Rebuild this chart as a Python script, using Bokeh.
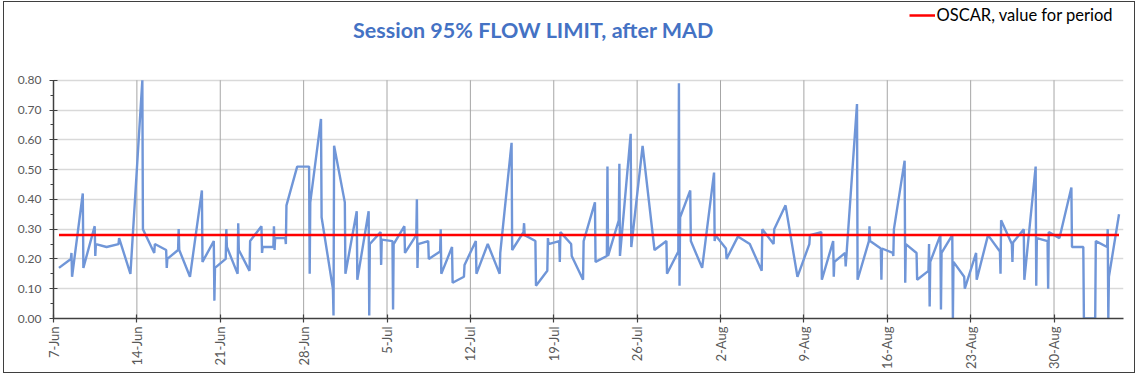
from datetime import datetime, timedelta
from math import pi

from bokeh.plotting import figure
from bokeh.layouts import column
from bokeh.models import (Range1d, FixedTicker, NumeralTickFormatter,
                          CustomJSTickFormatter, Legend, LegendItem, Label)
from bokeh.embed import file_html
from bokeh.resources import INLINE

# ---------------- data ----------------
first_day = datetime(2021, 6, 7)
# session values (95% flow limit, after MAD), one list per day starting 7-Jun
sessions = [
    [0.17], [0.20, 0.22, 0.14], [0.42, 0.17], [0.31, 0.21, 0.25], [0.24], [0.25, 0.27], [0.15],
    [0.80, 0.30], [0.22, 0.25], [0.23, 0.17, 0.20], [0.23, 0.30, 0.23], [0.14], [0.43, 0.19], [0.26, 0.06, 0.17],
    [0.20, 0.30, 0.24], [0.15, 0.32, 0.23], [0.16, 0.26], [0.31, 0.22, 0.24], [0.24, 0.31, 0.23, 0.27], [0.27, 0.25, 0.38], [0.51],
    [0.51, 0.15, 0.39], [0.67, 0.34], [0.10, 0.01, 0.58], [0.39, 0.15], [0.36, 0.13], [0.36, 0.01, 0.25], [0.29, 0.18, 0.265],
    [0.26, 0.03, 0.25], [0.31, 0.22], [0.28, 0.40, 0.17, 0.25], [0.26, 0.20], [0.225, 0.30, 0.15], [0.24, 0.12], [0.14, 0.18],
    [0.26, 0.15], [0.25], [0.15, 0.22], [0.59, 0.23], [0.29, 0.32, 0.28], [0.26, 0.11], [0.16, 0.27, 0.25],
    [0.26, 0.19, 0.29], [0.25, 0.21], [0.13, 0.26], [0.39, 0.19], [0.21, 0.51, 0.21], [0.33, 0.52, 0.21], [0.62, 0.24],
    [0.58], [0.23], [0.26, 0.15], [0.225, 0.79, 0.11, 0.34], [0.43, 0.26], [0.17], [0.49, 0.26, 0.28],
    [0.235, 0.20], [0.275], [0.25], [0.16, 0.30], [0.25, 0.30], [0.38], [0.14],
    [0.25, 0.28], [0.29, 0.13], [0.26, 0.14, 0.19], [0.22, 0.175], [0.72, 0.13], [0.26, 0.31, 0.26], [0.235, 0.13, 0.235],
    [0.22, 0.21, 0.30], [0.53, 0.12, 0.25], [0.22, 0.13], [0.16, 0.25, 0.04, 0.19], [0.28, 0.03, 0.22], [0.28, 0.00, 0.19], [0.14, 0.10],
    [0.22, 0.13], [0.28], [0.225, 0.15, 0.33], [0.25, 0.19, 0.255], [0.30, 0.13], [0.51, 0.11, 0.27], [0.26, 0.10, 0.29],
    [0.27], [0.44, 0.24], [0.24, 0.00], [0.00, 0.26], [0.24, 0.30, 0.00, 0.14], [0.35],
]
oscar_value = 0.28
y_ticks = [0.0, 0.1, 0.2, 0.3, 0.4, 0.5, 0.6, 0.7, 0.8]
week_labels = ["7-Jun", "14-Jun", "21-Jun", "28-Jun", "5-Jul", "12-Jul", "19-Jul",
               "26-Jul", "2-Aug", "9-Aug", "16-Aug", "23-Aug", "30-Aug"]
title_text = "Session 95% FLOW LIMIT, after MAD"
legend_text = "OSCAR, value for period"

# session timestamps: sessions of a day start late morning, an hour or so apart
xs, ys = [], []
for d, vals in enumerate(sessions):
    for k, v in enumerate(vals):
        xs.append(first_day + timedelta(days=d, hours=11 + 1.2 * k))
        ys.append(v)

week_dates = [first_day + timedelta(days=7 * i) for i in range(len(week_labels))]
week_ticks = [(d - datetime(1970, 1, 1)).total_seconds() * 1000 for d in week_dates]
y_max = y_ticks[-1]
y_minor = [t + 0.05 for t in y_ticks[:-1]]

# ---------------- layout (page pixels of the reference) ----------------
OX, OY = 4, 2            # where the figure starts inside the bordered box
W, H = 1130, 370
BL = 53 - OX             # frame left edge at page x=53
FB = 319 - OY            # frame bottom (y=0 line) at page y=319
BB = H - FB
BR = W - (1123 - OX)
FH = FB                  # frame spans the whole height above the x axis
y_top = y_max * FH / (319 - 80)

p = figure(width=W, height=H, x_axis_type="datetime",
           x_range=Range1d(first_day, datetime(2021, 9, 4, 20)),
           y_range=Range1d(0, y_top),
           output_backend="svg", toolbar_location=None, title_location=None,
           min_border_left=BL, min_border_right=BR, min_border_top=0, min_border_bottom=BB)
p.outline_line_color = None
p.background_fill_color = "white"
p.border_fill_color = "white"

# title
p.add_layout(Label(x=533 - 53, y=319 - 30, x_units="screen", y_units="screen",
                   text=title_text, text_align="center", text_baseline="middle",
                   text_font="Lato", text_font_size="21.5px", text_font_style="bold",
                   text_color="#4472C4"))

# x axis
p.xaxis.ticker = FixedTicker(ticks=week_ticks)
p.xaxis.formatter = CustomJSTickFormatter(args=dict(wticks=week_ticks, wlabels=week_labels), code="""
    let best = -1, bd = Infinity;
    for (let i = 0; i < wticks.length; i++) {
        const dd = Math.abs(wticks[i] - tick);
        if (dd < bd) { bd = dd; best = i; }
    }
    return bd < 3600000 ? wlabels[best] : "";
""")
p.xaxis.major_label_orientation = pi / 2
p.xaxis.axis_line_color = "#404040"
p.xaxis.axis_line_width = 1.5
p.xaxis.major_tick_line_color = "#404040"
p.xaxis.major_tick_line_width = 1.2
p.xaxis.major_tick_in = 4
p.xaxis.major_tick_out = 4
p.xaxis.minor_tick_line_color = None
p.xaxis.major_label_text_font = "Lato"
p.xaxis.major_label_text_font_size = "13px"
p.xaxis.major_label_text_color = "#595959"
p.xaxis.major_label_standoff = 4

# y axis
p.yaxis.bounds = (0, y_max)
p.yaxis.ticker = FixedTicker(ticks=y_ticks, minor_ticks=y_minor)
p.yaxis.formatter = NumeralTickFormatter(format="0.00")
p.yaxis.axis_line_color = "#404040"
p.yaxis.axis_line_width = 1.5
p.yaxis.major_tick_line_color = "#404040"
p.yaxis.major_tick_line_width = 1.2
p.yaxis.major_tick_in = 4
p.yaxis.major_tick_out = 4
p.yaxis.minor_tick_line_color = "#404040"
p.yaxis.minor_tick_in = 0
p.yaxis.minor_tick_out = 3
p.yaxis.major_label_text_font = "Lato"
p.yaxis.major_label_text_font_size = "12px"
p.yaxis.major_label_text_color = "#595959"
p.yaxis.major_label_standoff = 8

# grids
p.xgrid.visible = False
p.segment(x0=week_dates, y0=[0] * len(week_dates), x1=week_dates, y1=[y_max] * len(week_dates),
          line_color="#A6A6A6", line_width=1)
p.ygrid.ticker = FixedTicker(ticks=y_ticks[1:])
p.ygrid.grid_line_color = "#D9D9D9"
p.ygrid.grid_line_width = 1.5

# series
p.line(xs, ys, line_color="#7096D8", line_width=2.4)
oscar = p.line(xs, [oscar_value] * len(xs), line_color="#FF0000", line_width=2.5)

legend = Legend(items=[LegendItem(label=legend_text, renderers=[oscar])],
                location=(909 - 53, 319 - 26), padding=0, margin=0, spacing=0,
                glyph_width=26, glyph_height=16, label_height=16, label_standoff=2,
                border_line_color=None, background_fill_alpha=0,
                label_text_font="Lato", label_text_font_size="16.5px", label_text_color="#000000")
p.add_layout(legend)

box = column(p, styles={"border": "1.5px solid #3F3F3F", "margin-left": "2.5px",
                        "margin-top": "0.5px", "background": "white"})

open("out.html", "w").write(file_html(box, INLINE))
